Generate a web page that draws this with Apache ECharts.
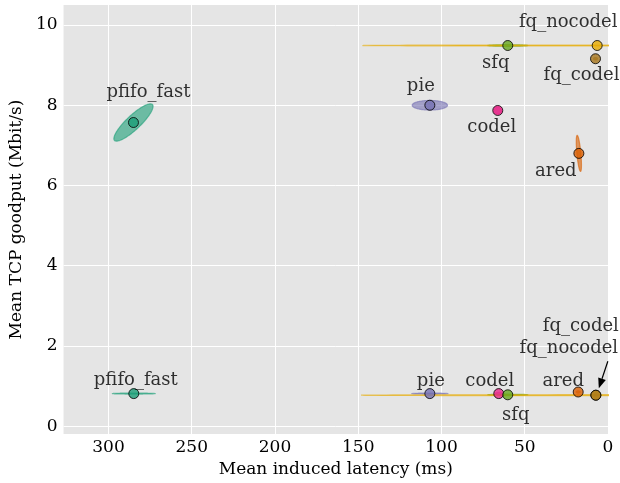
<!DOCTYPE html>
<html><head><meta charset="utf-8">
<script src="https://cdn.jsdelivr.net/npm/echarts@6/dist/echarts.min.js"></script>
<style>html,body{margin:0;padding:0;background:#fff}#c{width:620px;height:483px}</style>
</head><body><div id="c"></div><script>
// ---- data ----
const algorithms = ['pfifo_fast', 'ared', 'pie', 'codel', 'sfq', 'fq_nocodel', 'fq_codel'];
// upper cluster (high goodput)
const highLatency = [285.0, 17.5, 107.0, 66.2, 60.2, 6.5, 7.5];
const highGoodput = [7.57, 6.80, 8.00, 7.87, 9.49, 9.49, 9.16];
// lower cluster (low goodput)
const lowLatency = [284.8, 17.9, 107.0, 65.6, 60.2, 7.3, 7.3];
const lowGoodput = [0.81, 0.85, 0.81, 0.81, 0.78, 0.77, 0.77];
// confidence ellipse semi-axes [ax, ay, bx, by] (data units)
const highSpread = [[-11.4, 0.447, -2.9, -0.127], [1.0, 0.45, -1.2, 0], [10.6, 0, 0, 0.12], [2.2, 0, 0, 0.09], [12, 0, 0, 0.02], [141, 0, 0, 0.012], [1.2, 0, 0, 0.03]];
const lowSpread = [[12.8, 0, 0, 0.012], [1.2, 0, 0, 0.03], [10.8, 0, 0, 0.012], [2, 0, 0, 0.03], [12, 0, 0, 0.015], [141, 0, 0, 0.012], [1.2, 0, 0, 0.02]];
const xTicks = [0, 50, 100, 150, 200, 250, 300];
const yTicks = [0, 2, 4, 6, 8, 10];

// ---- style ----
const colorOf = {pfifo_fast:'#1b9e77', ared:'#d95f02', pie:'#7570b3', codel:'#e7298a', sfq:'#66a61e', fq_nocodel:'#e6ab02', fq_codel:'#a6761d'};
const highOffsets = {pfifo_fast:[15,-30], ared:[-23,18], pie:[-9,-19], codel:[-6,17], sfq:[-12,18], fq_nocodel:[-29,-23], fq_codel:[-14,17]};
const lowOffsets = {pfifo_fast:[2,-13], ared:[-15,-11], pie:[1,-12], codel:[-9,-12], sfq:[8,21], fq_nocodel:[-27,-47], fq_codel:[-15,-69]};
const FONT = 'DejaVu Serif';
const FS = 17;
const LFS = 18;

const ellipseData = [];
algorithms.forEach((a, i) => {
  ellipseData.push([highLatency[i], highGoodput[i], ...highSpread[i], i]);
  ellipseData.push([lowLatency[i], lowGoodput[i], ...lowSpread[i], i]);
});

function pointItems(lat, gp, offs) {
  return algorithms.map((a, i) => ({
    value: [lat[i], gp[i]],
    itemStyle: {color: colorOf[a], borderColor: '#000', borderWidth: 1},
    label: {show: true, formatter: a, position: 'inside', align: 'center', verticalAlign: 'middle',
            offset: offs[a], color: '#000', fontFamily: FONT, fontSize: LFS}
  }));
}

const chart = echarts.init(document.getElementById('c'), null, {renderer: 'canvas'});
chart.setOption({
  animation: false,
  grid: {left: 63, right: 12, top: 5, bottom: 46, show: true, backgroundColor: '#e5e5e5', borderWidth: 0},
  xAxis: {
    type: 'value', inverse: true, min: 0, max: 327,
    name: 'Mean induced latency (ms)', nameLocation: 'middle', nameGap: 22,
    nameTextStyle: {fontFamily: FONT, fontSize: FS, color: '#000'},
    axisLine: {show: false}, axisTick: {show: false, customValues: xTicks},
    axisLabel: {customValues: xTicks, fontFamily: FONT, fontSize: FS, color: '#000', margin: 5},
    splitLine: {show: true, lineStyle: {color: '#fff', width: 1}}
  },
  yAxis: {
    type: 'value', min: -0.2, max: 10.5,
    name: 'Mean TCP goodput (Mbit/s)', nameLocation: 'middle', nameGap: 27,
    nameTextStyle: {fontFamily: FONT, fontSize: FS, color: '#000'},
    axisLine: {show: false}, axisTick: {show: false, customValues: yTicks},
    axisLabel: {customValues: yTicks, fontFamily: FONT, fontSize: FS, color: '#000', margin: 6},
    splitLine: {show: true, lineStyle: {color: '#fff', width: 1}}
  },
  series: [
    {
      type: 'custom', clip: true, z: 2,
      data: ellipseData,
      encode: {x: 0, y: 1},
      renderItem(params, api) {
        const cx = api.value(0), cy = api.value(1), ax = api.value(2), ay = api.value(3), bx = api.value(4), by = api.value(5);
        const col = colorOf[algorithms[api.value(6)]];
        const pts = [];
        for (let k = 0; k < 120; k++) {
          const t = k / 120 * 2 * Math.PI;
          pts.push(api.coord([cx + ax * Math.cos(t) + bx * Math.sin(t), cy + ay * Math.cos(t) + by * Math.sin(t)]));
        }
        return {type: 'polygon', shape: {points: pts}, style: {fill: col, stroke: col, lineWidth: 1.2, opacity: 0.6}};
      }
    },
    {type: 'scatter', symbol: 'circle', symbolSize: 10, z: 3, data: pointItems(highLatency, highGoodput, highOffsets)},
    {type: 'scatter', symbol: 'circle', symbolSize: 10, z: 3, data: pointItems(lowLatency, lowGoodput, lowOffsets)},
    {
      type: 'custom', z: 4,
      data: [[lowLatency[5], lowGoodput[5]]],
      encode: {x: 0, y: 1},
      renderItem(params, api) {
        const p = api.coord([api.value(0), api.value(1)]);
        const sx = p[0] + 12, sy = p[1] - 34, ex = p[0] + 3, ey = p[1] - 7;
        const ang = Math.atan2(ey - sy, ex - sx), L = 10, W = 4;
        const bx = ex - L * Math.cos(ang), by = ey - L * Math.sin(ang);
        return {type: 'group', children: [
          {type: 'line', shape: {x1: sx, y1: sy, x2: bx, y2: by}, style: {stroke: '#000', lineWidth: 1.2}},
          {type: 'polygon', shape: {points: [[ex, ey], [bx + W * Math.sin(ang), by - W * Math.cos(ang)], [bx - W * Math.sin(ang), by + W * Math.cos(ang)]]}, style: {fill: '#000'}}
        ]};
      }
    }
  ]
});
</script></body></html>
